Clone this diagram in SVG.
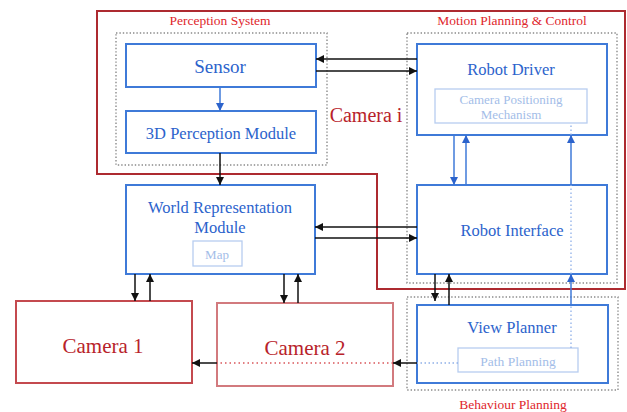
<svg xmlns="http://www.w3.org/2000/svg" width="627" height="412" viewBox="0 0 627 412">
  <style>
    text { font-family: "Liberation Serif", "Times New Roman", serif; text-anchor: middle; }
    .box { fill: #ffffff; stroke: #3f7ad8; stroke-width: 2; }
    .sub { fill: none; stroke: #b7cdf0; stroke-width: 1.3; }
    .grp { fill: none; stroke: #8a8a8a; stroke-width: 1.4; stroke-dasharray: 1.4 2; }
    .cam { fill: #ffffff; stroke: #c44a4f; stroke-width: 2; }
    .cam2 { fill: #ffffff; stroke: #d27a7e; stroke-width: 2; }
    .t-blue { fill: #2c63cc; font-size: 16.5px; }
    .t-light { fill: #a3bde8; font-size: 13px; }
    .t-cam { fill: #b8222a; font-size: 21px; }
    .t-grp { fill: #e0262c; font-size: 13.5px; }
    .k { stroke: #111111; stroke-width: 1.5; fill: none; }
    .b { stroke: #3f7ad8; stroke-width: 1.5; fill: none; }
    .bd { stroke: #8fb0e8; stroke-width: 1.3; fill: none; stroke-dasharray: 1.5 2.5; }
    .rd { stroke: #d9555a; stroke-width: 1.3; fill: none; stroke-dasharray: 1.5 3; }
  </style>
  <defs>
    <marker id="ak" viewBox="0 0 10 10" refX="10" refY="5" markerWidth="9" markerHeight="8" markerUnits="userSpaceOnUse" orient="auto">
      <path d="M0,0 L10,5 L0,10 z" fill="#111111"/>
    </marker>
    <marker id="ab" viewBox="0 0 10 10" refX="10" refY="5" markerWidth="10" markerHeight="8" markerUnits="userSpaceOnUse" orient="auto">
      <path d="M0,0 L10,5 L0,10 z" fill="#2c63cc"/>
    </marker>
  </defs>

  <!-- Camera i outline -->
  <g id="camera-i">
    <polygon points="97,11 625,11 625,289 377,289 377,174 97,174" fill="none" stroke="#ad2a30" stroke-width="2"/>
    <text x="366" y="122" style="fill:#b8222a;font-size:20px">Camera i</text>
  </g>

  <!-- dotted subsystem frames -->
  <g id="perception-system">
    <rect class="grp" x="116" y="33" width="211" height="132"/>
    <text class="t-grp" x="220" y="25">Perception System</text>
  </g>
  <g id="motion-planning">
    <rect class="grp" x="407" y="33" width="210" height="250"/>
    <text class="t-grp" x="512" y="25">Motion Planning &amp; Control</text>
  </g>
  <g id="behaviour-planning">
    <rect class="grp" x="407" y="297" width="211" height="93"/>
    <text class="t-grp" x="513" y="409">Behaviour Planning</text>
  </g>

  <!-- modules -->
  <g id="sensor">
    <rect class="box" x="126" y="44" width="190" height="43"/>
    <text class="t-blue" x="220" y="73" style="font-size:19px">Sensor</text>
  </g>
  <g id="perception-module">
    <rect class="box" x="126" y="111" width="190" height="42"/>
    <text class="t-blue" x="221" y="139">3D Perception Module</text>
  </g>
  <g id="world-representation">
    <rect class="box" x="126" y="185" width="189" height="89"/>
    <text class="t-blue" x="220" y="213">World Representation</text>
    <text class="t-blue" x="220" y="233">Module</text>
    <rect class="sub" x="193" y="241" width="49" height="25"/>
    <text class="t-light" x="217" y="259">Map</text>
  </g>
  <g id="robot-driver">
    <rect class="box" x="417" y="44" width="190" height="91"/>
    <text class="t-blue" x="511" y="75">Robot Driver</text>
    <rect class="sub" x="435" y="89" width="152" height="34"/>
    <text class="t-light" x="511" y="104">Camera Positioning</text>
    <text class="t-light" x="511" y="119">Mechanism</text>
  </g>
  <g id="robot-interface">
    <rect class="box" x="417" y="185" width="190" height="89"/>
    <text class="t-blue" x="512" y="236">Robot Interface</text>
  </g>
  <g id="view-planner">
    <rect class="box" x="417" y="305" width="191" height="78"/>
    <text class="t-blue" x="512" y="333">View Planner</text>
    <rect class="sub" x="458" y="348" width="120" height="24"/>
    <text class="t-light" x="518" y="366" style="font-size:13.5px">Path Planning</text>
  </g>
  <g id="camera-1">
    <rect class="cam" x="16" y="301" width="176" height="82"/>
    <text class="t-cam" x="103" y="353">Camera 1</text>
  </g>
  <g id="camera-2">
    <rect class="cam2" x="217" y="303" width="176" height="83"/>
    <text class="t-cam" x="305" y="355">Camera 2</text>
  </g>

  <!-- connectors -->
  <g id="connectors">
    <line class="b" x1="220" y1="87" x2="220" y2="111" marker-end="url(#ab)"/>
    <line class="k" x1="220" y1="153" x2="220" y2="185" marker-end="url(#ak)"/>

    <line class="k" x1="417" y1="59" x2="316" y2="59" marker-end="url(#ak)"/>
    <line class="k" x1="316" y1="71" x2="417" y2="71" marker-end="url(#ak)"/>

    <line class="k" x1="417" y1="227" x2="315" y2="227" marker-end="url(#ak)"/>
    <line class="k" x1="315" y1="238" x2="417" y2="238" marker-end="url(#ak)"/>

    <line class="b" x1="454" y1="135" x2="454" y2="185" marker-end="url(#ab)"/>
    <line class="b" x1="466" y1="185" x2="466" y2="135" marker-end="url(#ab)"/>

    <line class="k" x1="135" y1="274" x2="135" y2="301" marker-end="url(#ak)"/>
    <line class="k" x1="150" y1="301" x2="150" y2="274" marker-end="url(#ak)"/>
    <line class="k" x1="284" y1="274" x2="284" y2="303" marker-end="url(#ak)"/>
    <line class="k" x1="298" y1="303" x2="298" y2="274" marker-end="url(#ak)"/>

    <line class="k" x1="435" y1="274" x2="435" y2="301" marker-end="url(#ak)"/>
    <line class="k" x1="449" y1="305" x2="449" y2="274" marker-end="url(#ak)"/>

    <!-- path planning feeds back up to the positioning mechanism -->
    <line class="bd" x1="571" y1="348" x2="571" y2="305"/>
    <line class="b" x1="571" y1="305" x2="571" y2="274" marker-end="url(#ab)" style="stroke:#3f7ad8"/>
    <line class="bd" x1="571" y1="274" x2="571" y2="185"/>
    <line class="b" x1="571" y1="185" x2="571" y2="135" marker-end="url(#ab)"/>
    <line class="bd" x1="571" y1="135" x2="571" y2="123"/>

    <!-- path planning out to the cameras -->
    <line class="bd" x1="458" y1="363" x2="417" y2="363"/>
    <line class="k" x1="417" y1="363" x2="393" y2="363" marker-end="url(#ak)"/>
    <line class="rd" x1="393" y1="363" x2="217" y2="363"/>
    <line class="k" x1="217" y1="363" x2="192" y2="363" marker-end="url(#ak)"/>
  </g>
</svg>
